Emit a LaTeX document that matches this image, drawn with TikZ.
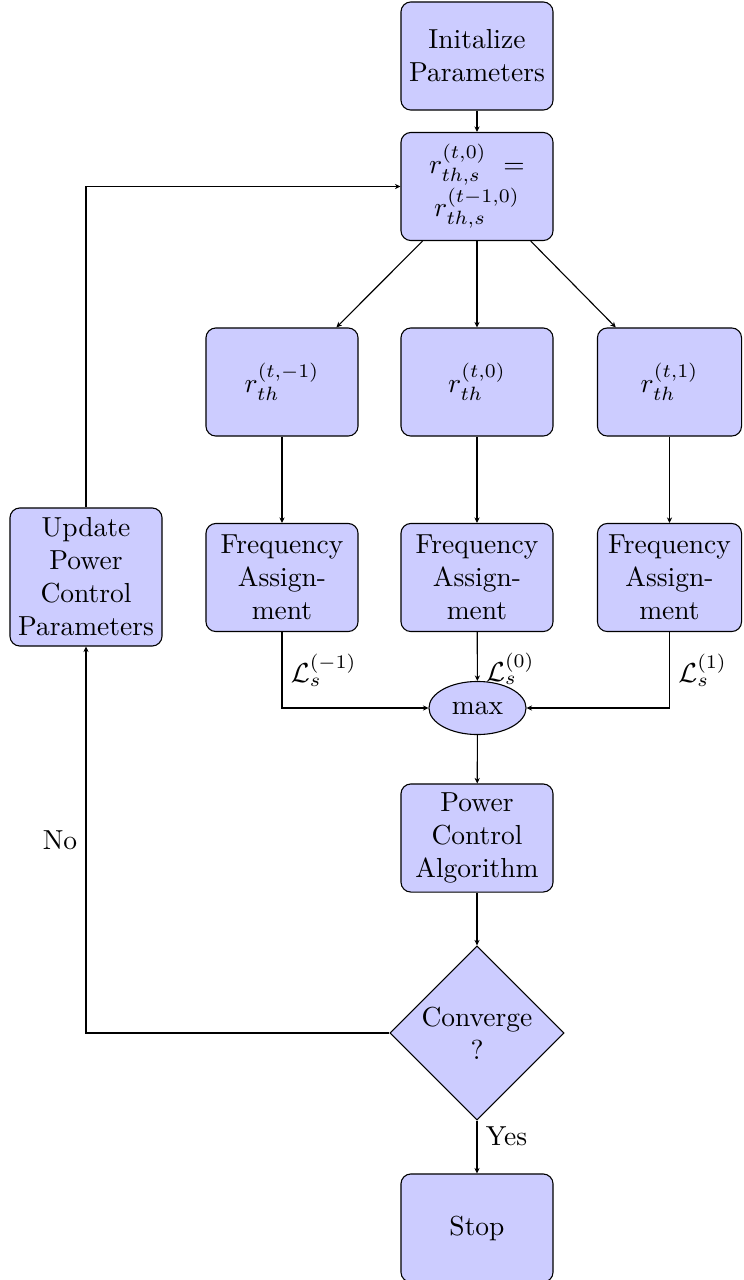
\documentclass[tikz,border=0pt]{standalone}
\usetikzlibrary{shapes.geometric,arrows.meta}
\begin{document}
\begin{tikzpicture}[x=0.363636pt,y=-0.363636pt,
  box/.style={draw, fill=blue!20, rounded corners=3.6pt, align=center,
    minimum width=55.3pt, minimum height=39.3pt, inner sep=2pt},
  rbox/.style={box, minimum width=52.4pt},
  tallbox/.style={box, minimum height=50.2pt},
  dec/.style={draw, fill=blue!20, diamond, aspect=1, align=center,
    minimum width=62.5pt, minimum height=62.5pt, inner sep=1pt},
  ell/.style={draw, fill=blue!20, ellipse, minimum width=35.3pt,
    minimum height=19.3pt, inner sep=1pt},
  conn/.style={-{Stealth[length=2pt,width=1.9pt]}},
  lab/.style={inner sep=3pt}
]
\useasboundingbox (0,0) rectangle (743,1280);

\node[box] (init) at (477,56) {Initalize\\Parameters};
\node[box] (rs) at (477,186.5) {$r_{th,s}^{(t,0)}\ =$\\$r_{th,s}^{(t-1,0)}$};
\node[box] (r1) at (282,382) {$r_{th}^{(t,-1)}$};
\node[box] (r0) at (477,382) {$r_{th}^{(t,0)}$};
\node[rbox] (r2) at (669.5,382) {$r_{th}^{(t,1)}$};
\node[box] (f1) at (282,577.5) {Frequency\\Assign-\\ment};
\node[box] (f0) at (477,577.5) {Frequency\\Assign-\\ment};
\node[rbox] (f2) at (669.5,577.5) {Frequency\\Assign-\\ment};
\node[tallbox] (upd) at (86,577) {Update\\Power\\Control\\Parameters};
\node[ell] (mx) at (477.5,708) {max};
\node[box] (pc) at (477,838) {Power\\Control\\Algorithm};
\node[dec] (cv) at (477,1033) {Converge\\?};
\node[box] (stop) at (477,1228) {Stop};

\draw[conn] (init) -- (rs);
\draw[conn] (rs) -- (r1);
\draw[conn] (rs) -- (r0);
\draw[conn] (rs) -- (r2);
\draw[conn] (r1) -- (f1);
\draw[conn] (r0) -- (f0);
\draw[conn] (r2) -- (f2);
\draw[conn] (f1) |- node[pos=0.25, right, lab] {$\mathcal{L}_s^{(-1)}$} (mx);
\draw[conn] (f0) -- node[pos=0.75, right, lab] {$\mathcal{L}_s^{(0)}$} (mx);
\draw[conn] (f2) |- node[pos=0.25, right, lab] {$\mathcal{L}_s^{(1)}$} (mx);
\draw[conn] (mx) -- (pc);
\draw[conn] (pc) -- (cv);
\draw[conn] (cv) -- node[pos=0.3, right, lab] {Yes} (stop);
\draw[conn] (cv.west) -| node[pos=0.75, left, lab] {No} (upd.south);
\draw[conn] (upd.north) |- (rs.west);
\end{tikzpicture}
\end{document}
